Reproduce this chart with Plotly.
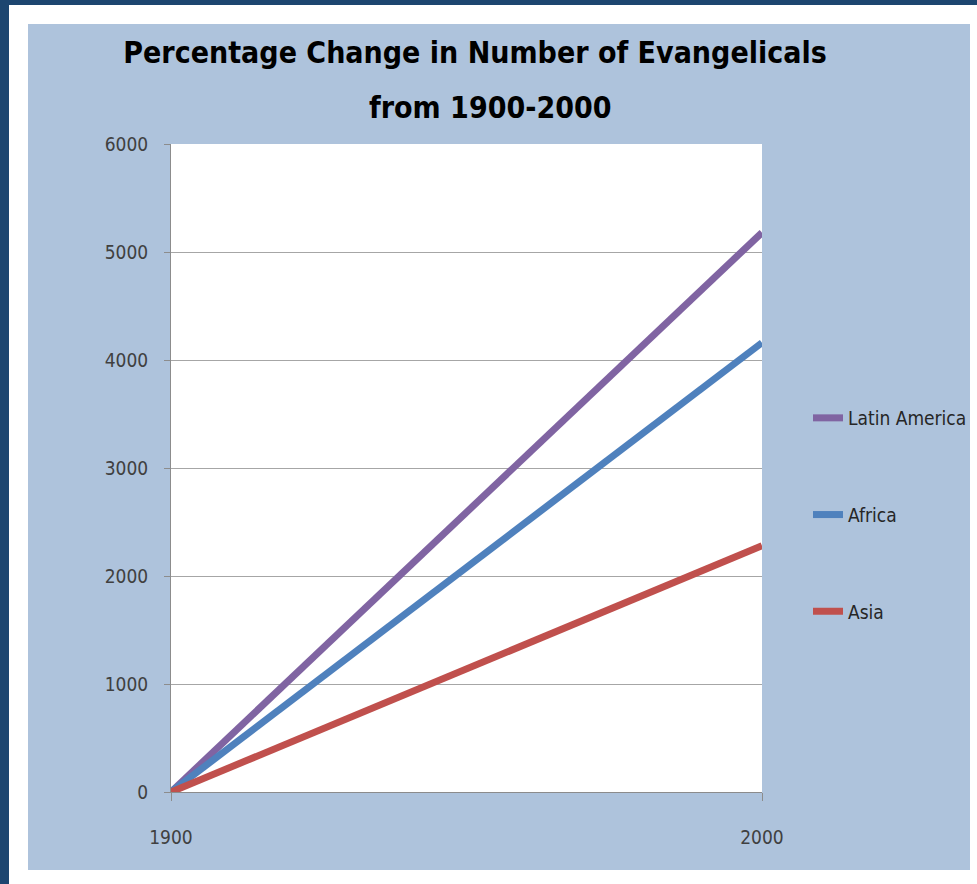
import plotly.graph_objects as go

years = [1900, 2000]
series_names = ["Latin America", "Africa", "Asia"]
latin_america = [0, 5180]
africa = [0, 4160]
asia = [0, 2280]
y_ticks = [0, 1000, 2000, 3000, 4000, 5000, 6000]
x_ticks = [1900, 2000]
title_line1 = "Percentage Change in Number of Evangelicals"
title_line2 = "from 1900-2000"

colors = ["#8064a2", "#4f81bd", "#c0504d"]
FONT = "DejaVu Sans Condensed, sans-serif"

W, H = 977, 884
L, R, T, B = 171, 215, 144, 92
pw, ph = W - L - R, H - T - B

def px_x(p):
    return (p - L) / pw

def px_y(p):
    return (H - B - p) / ph

fig = go.Figure()
for i, (name, vals) in enumerate(zip(series_names, [latin_america, africa, asia])):
    fig.add_trace(go.Scatter(
        x=years, y=vals, mode="lines", name=name,
        line=dict(color=colors[i], width=7),
        legendgroup=name,
    ))

shapes = [
    dict(type="rect", xref="paper", yref="paper", x0=px_x(9), x1=px_x(990), y0=px_y(900), y1=px_y(5),
         fillcolor="white", line=dict(width=0), layer="below"),
    dict(type="rect", xref="paper", yref="paper", x0=px_x(28), x1=px_x(970), y0=px_y(870), y1=px_y(24),
         fillcolor="#aec3dc", line=dict(width=0), layer="below"),
    dict(type="rect", xref="paper", yref="paper", x0=0, x1=1, y0=0, y1=1,
         fillcolor="white", line=dict(width=0), layer="below"),
]

fig.update_layout(
    width=W, height=H,
    margin=dict(l=L, r=R, t=T, b=B, pad=0, autoexpand=False),
    paper_bgcolor="#1d4670",
    plot_bgcolor="white",
    shapes=shapes,
    title=dict(text=title_line1, xref="container", yref="container",
               x=475 / W, xanchor="center", y=1 - 52 / H, yanchor="middle",
               font=dict(family=FONT, size=30, color="black", weight="bold")),
    annotations=[dict(text=title_line2, xref="paper", yref="paper", x=px_x(490), y=px_y(108),
                      xanchor="center", yanchor="middle", showarrow=False,
                      font=dict(family=FONT, size=30, color="black", weight="bold"))],
    font=dict(family=FONT, size=19, color="#404040"),
    showlegend=True,
    legend=dict(xref="container", yref="container", x=808 / W, y=1 - 399 / H,
                xanchor="left", yanchor="top",
                bgcolor="rgba(0,0,0,0)", traceorder="grouped", tracegroupgap=69,
                font=dict(family=FONT, size=19, color="#262626")),
)
fig.update_xaxes(
    range=[1900, 2000], tickvals=x_ticks, ticktext=[str(v) for v in x_ticks],
    showgrid=False, zeroline=False, showline=True, linecolor="#8c8c8c", linewidth=1,
    ticks="outside", ticklen=8, tickcolor="#8c8c8c", ticklabelstandoff=20,
    tickfont=dict(family=FONT, size=19, color="#404040"),
)
fig.update_yaxes(
    range=[0, 6000], tickvals=y_ticks,
    showgrid=True, gridcolor="#a6a6a6", gridwidth=1, zeroline=False,
    showline=True, linecolor="#8c8c8c", linewidth=1,
    ticks="outside", ticklen=6, tickcolor="#8c8c8c", ticklabelstandoff=12,
    tickfont=dict(family=FONT, size=19, color="#404040"),
)

fig.write_html("out.html", config={"displayModeBar": False},
               post_script="document.body.style.margin='0';document.body.style.overflow='hidden';")
